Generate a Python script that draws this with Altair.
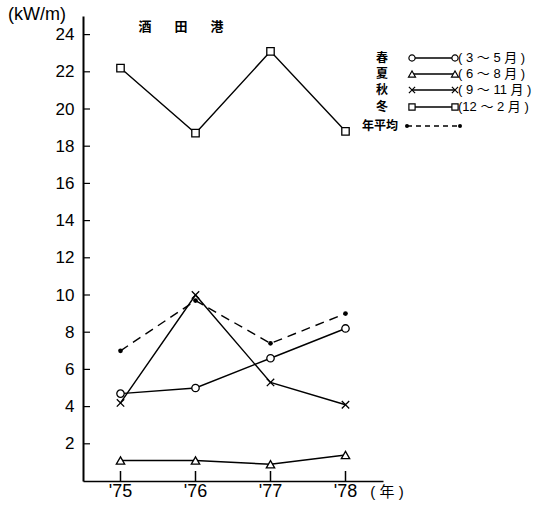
import altair as alt
import pandas as pd

years = [1975, 1976, 1977, 1978]
year_labels = ["'75", "'76", "'77", "'78"]
spring = [4.7, 5.0, 6.6, 8.2]
summer = [1.1, 1.1, 0.9, 1.4]
autumn = [4.2, 10.0, 5.3, 4.1]
winter = [22.2, 18.7, 23.1, 18.8]
annual = [7.0, 9.7, 7.4, 9.0]
y_ticks = [2, 4, 6, 8, 10, 12, 14, 16, 18, 20, 22, 24]

season_names = ["春", "夏", "秋", "冬"]
season_ranges = ["( 3 ～ 5 月 )", "( 6 ～ 8 月 )", "( 9 ～ 11 月 )", "(12 ～ 2 月 )"]
annual_name = "年平均"
title_chars = ["酒", "田", "港"]
unit_text = "(kW/m)"
year_unit = "( 年 )"

W, H = 300, 465
FONT = "Liberation Sans"
CJK = "Noto Sans CJK JP"
MIX = "Liberation Sans, Noto Sans CJK JP"

X_PATH = "M -1 -1 L 1 1 M -1 1 L 1 -1"
shapes = ["circle", "triangle-up", X_PATH, "square"]
sizes = [55, 70, 55, 55]
series = [spring, summer, autumn, winter]

xs = alt.Scale(domain=[1974.5, 1978.5], nice=False, zero=False)
ys = alt.Scale(domain=[0, 25], nice=False)

layers = []

base_df = pd.DataFrame({"year": years, "label": year_labels})
axes = alt.Chart(base_df).mark_point(opacity=0).encode(
    x=alt.X("year:Q", scale=xs,
            axis=alt.Axis(title=None, labels=False, ticks=False, grid=False,
                          domainColor="black", domainWidth=1.6)),
    y=alt.Y("v:Q", scale=ys,
            axis=alt.Axis(title=None, values=y_ticks, ticks=False, tickSize=0,
                          grid=False, labelPadding=9, labelFontSize=17,
                          labelFont=FONT, labelColor="black",
                          domainColor="black", domainWidth=2)),
).transform_calculate(v="1")
layers.append(axes)

ytick_df = pd.DataFrame({"v": y_ticks})
layers.append(alt.Chart(ytick_df).mark_rule(color="black", strokeWidth=1.2).encode(
    y=alt.Y("v:Q", scale=ys), x=alt.value(0), x2=alt.value(7)))

layers.append(alt.Chart(base_df).mark_rule(color="black", strokeWidth=1.5).encode(
    x=alt.X("year:Q", scale=xs), y=alt.value(H), y2=alt.value(H - 10)))

layers.append(alt.Chart(base_df).mark_text(fontSize=18, font=FONT, color="black", baseline="middle").encode(
    x=alt.X("year:Q", scale=xs), y=alt.value(H + 11), text="label:N"))

for vals, shp, sz in zip(series, shapes, sizes):
    df = pd.DataFrame({"year": years, "v": vals})
    b = alt.Chart(df).encode(x=alt.X("year:Q", scale=xs), y=alt.Y("v:Q", scale=ys))
    layers.append(b.mark_line(color="black", strokeWidth=1.4))
    layers.append(b.mark_point(shape=shp, size=sz, filled=False, fill="white", fillOpacity=1,
                               stroke="black", strokeWidth=1.3, opacity=1))

adf = pd.DataFrame({"year": years, "v": annual})
ab = alt.Chart(adf).encode(x=alt.X("year:Q", scale=xs), y=alt.Y("v:Q", scale=ys))
layers.append(ab.mark_line(color="black", strokeWidth=1.4, strokeDash=[9, 6]))
layers.append(ab.mark_point(shape="circle", size=22, filled=True, color="black", opacity=1))

# legend
one = pd.DataFrame({"a": [0]})
lx_name, lx0, lx1, lx_txt = 299, 329, 372, 375
row_y = [42, 58, 74, 91]
for i in range(4):
    yy = row_y[i]
    layers.append(alt.Chart(one).mark_text(fontSize=12, font=MIX, fontWeight="bold", color="black").encode(
        x=alt.value(lx_name), y=alt.value(yy), text=alt.value(season_names[i])))
    layers.append(alt.Chart(one).mark_rule(color="black", strokeWidth=1.4).encode(
        x=alt.value(lx0), x2=alt.value(lx1), y=alt.value(yy)))
    for px in (lx0, lx1):
        layers.append(alt.Chart(one).mark_point(shape=shapes[i], size=sizes[i] * 0.7, filled=False,
                                                fill="white", fillOpacity=1, stroke="black",
                                                strokeWidth=1.2, opacity=1).encode(
            x=alt.value(px), y=alt.value(yy)))
    layers.append(alt.Chart(one).mark_text(fontSize=13, font=MIX, color="black", align="left").encode(
        x=alt.value(lx_txt), y=alt.value(yy), text=alt.value(season_ranges[i])))

ay = 110
layers.append(alt.Chart(one).mark_text(fontSize=12, font=MIX, fontWeight="bold", color="black").encode(
    x=alt.value(297), y=alt.value(ay), text=alt.value(annual_name)))
layers.append(alt.Chart(one).mark_rule(color="black", strokeWidth=1.3, strokeDash=[5, 4]).encode(
    x=alt.value(324), x2=alt.value(377), y=alt.value(ay)))
for px in (324, 377):
    layers.append(alt.Chart(one).mark_point(shape="circle", size=16, filled=True, color="black", opacity=1).encode(
        x=alt.value(px), y=alt.value(ay)))

# titles
for k, ch in enumerate(title_chars):
    layers.append(alt.Chart(one).mark_text(fontSize=13, font=CJK, fontWeight="bold", color="black").encode(
        x=alt.value(62 + 36 * k), y=alt.value(11), text=alt.value(ch)))
layers.append(alt.Chart(one).mark_text(fontSize=18, font=FONT, color="black").encode(
    x=alt.value(-46), y=alt.value(-1), text=alt.value(unit_text)))
layers.append(alt.Chart(one).mark_text(fontSize=15, font=MIX, color="black").encode(
    x=alt.value(304), y=alt.value(H + 11), text=alt.value(year_unit)))

chart = alt.layer(*layers).properties(
    width=W, height=H,
    autosize=alt.AutoSizeParams(type="none"),
    padding={"left": 83, "top": 16, "right": 154, "bottom": 26},
).configure_view(stroke=None)

chart.save("out.html", embed_options={"renderer": "svg", "actions": False})
